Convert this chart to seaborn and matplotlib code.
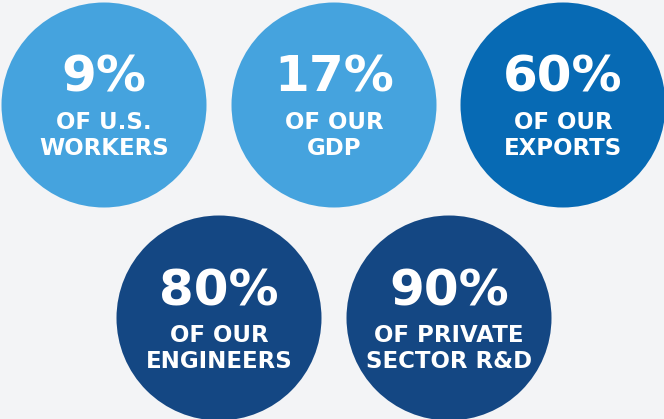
import matplotlib
matplotlib.use("Agg")
import matplotlib.pyplot as plt
import seaborn as sns
import pandas as pd

# ---- data ----
values = [9, 17, 60, 80, 90]
line1 = ["OF U.S.", "OF OUR", "OF OUR", "OF OUR", "OF PRIVATE"]
line2 = ["WORKERS", "GDP", "EXPORTS", "ENGINEERS", "SECTOR R&D"]
tiers = ["light", "light", "mid", "dark", "dark"]

# ---- layout / style ----
W, H, DPI = 664, 419, 100
centers_x = [104, 334, 563, 219, 449]
centers_y = [105, 105, 105, 318, 318]
radius = 102.5
palette = {"light": "#45a3de", "mid": "#076ab4", "dark": "#144783"}
bg = "#f3f4f6"

df = pd.DataFrame({"x": centers_x, "y": centers_y, "tier": tiers,
                   "value": values, "l1": line1, "l2": line2})

sns.set_theme(style="white")
plt.rcParams["font.family"] = ["DejaVu Sans"]
fig = plt.figure(figsize=(W / DPI, H / DPI), dpi=DPI, facecolor=bg)
ax = fig.add_axes([0, 0, 1, 1])
ax.set_facecolor(bg)
ax.set_xlim(0, W)
ax.set_ylim(H, 0)
ax.axis("off")

# marker size in points^2 so the diameter matches 2*radius pixels
diam_pt = 2 * radius * 72 / DPI
sns.scatterplot(data=df, x="x", y="y", hue="tier", palette=palette,
                s=diam_pt ** 2, linewidth=0, legend=False, ax=ax, alpha=1)

for _, r in df.iterrows():
    ax.text(r.x, r.y - 32, f"{r.value}%", ha="center", va="center_baseline",
            color="white", fontsize=36, fontweight="bold")
    ax.text(r.x, r.y + 15, r.l1, ha="center", va="center_baseline",
            color="white", fontsize=16.5, fontweight="bold")
    ax.text(r.x, r.y + 41, r.l2, ha="center", va="center_baseline",
            color="white", fontsize=16.5, fontweight="bold")

fig.savefig("out.png", dpi=DPI, facecolor=bg)
